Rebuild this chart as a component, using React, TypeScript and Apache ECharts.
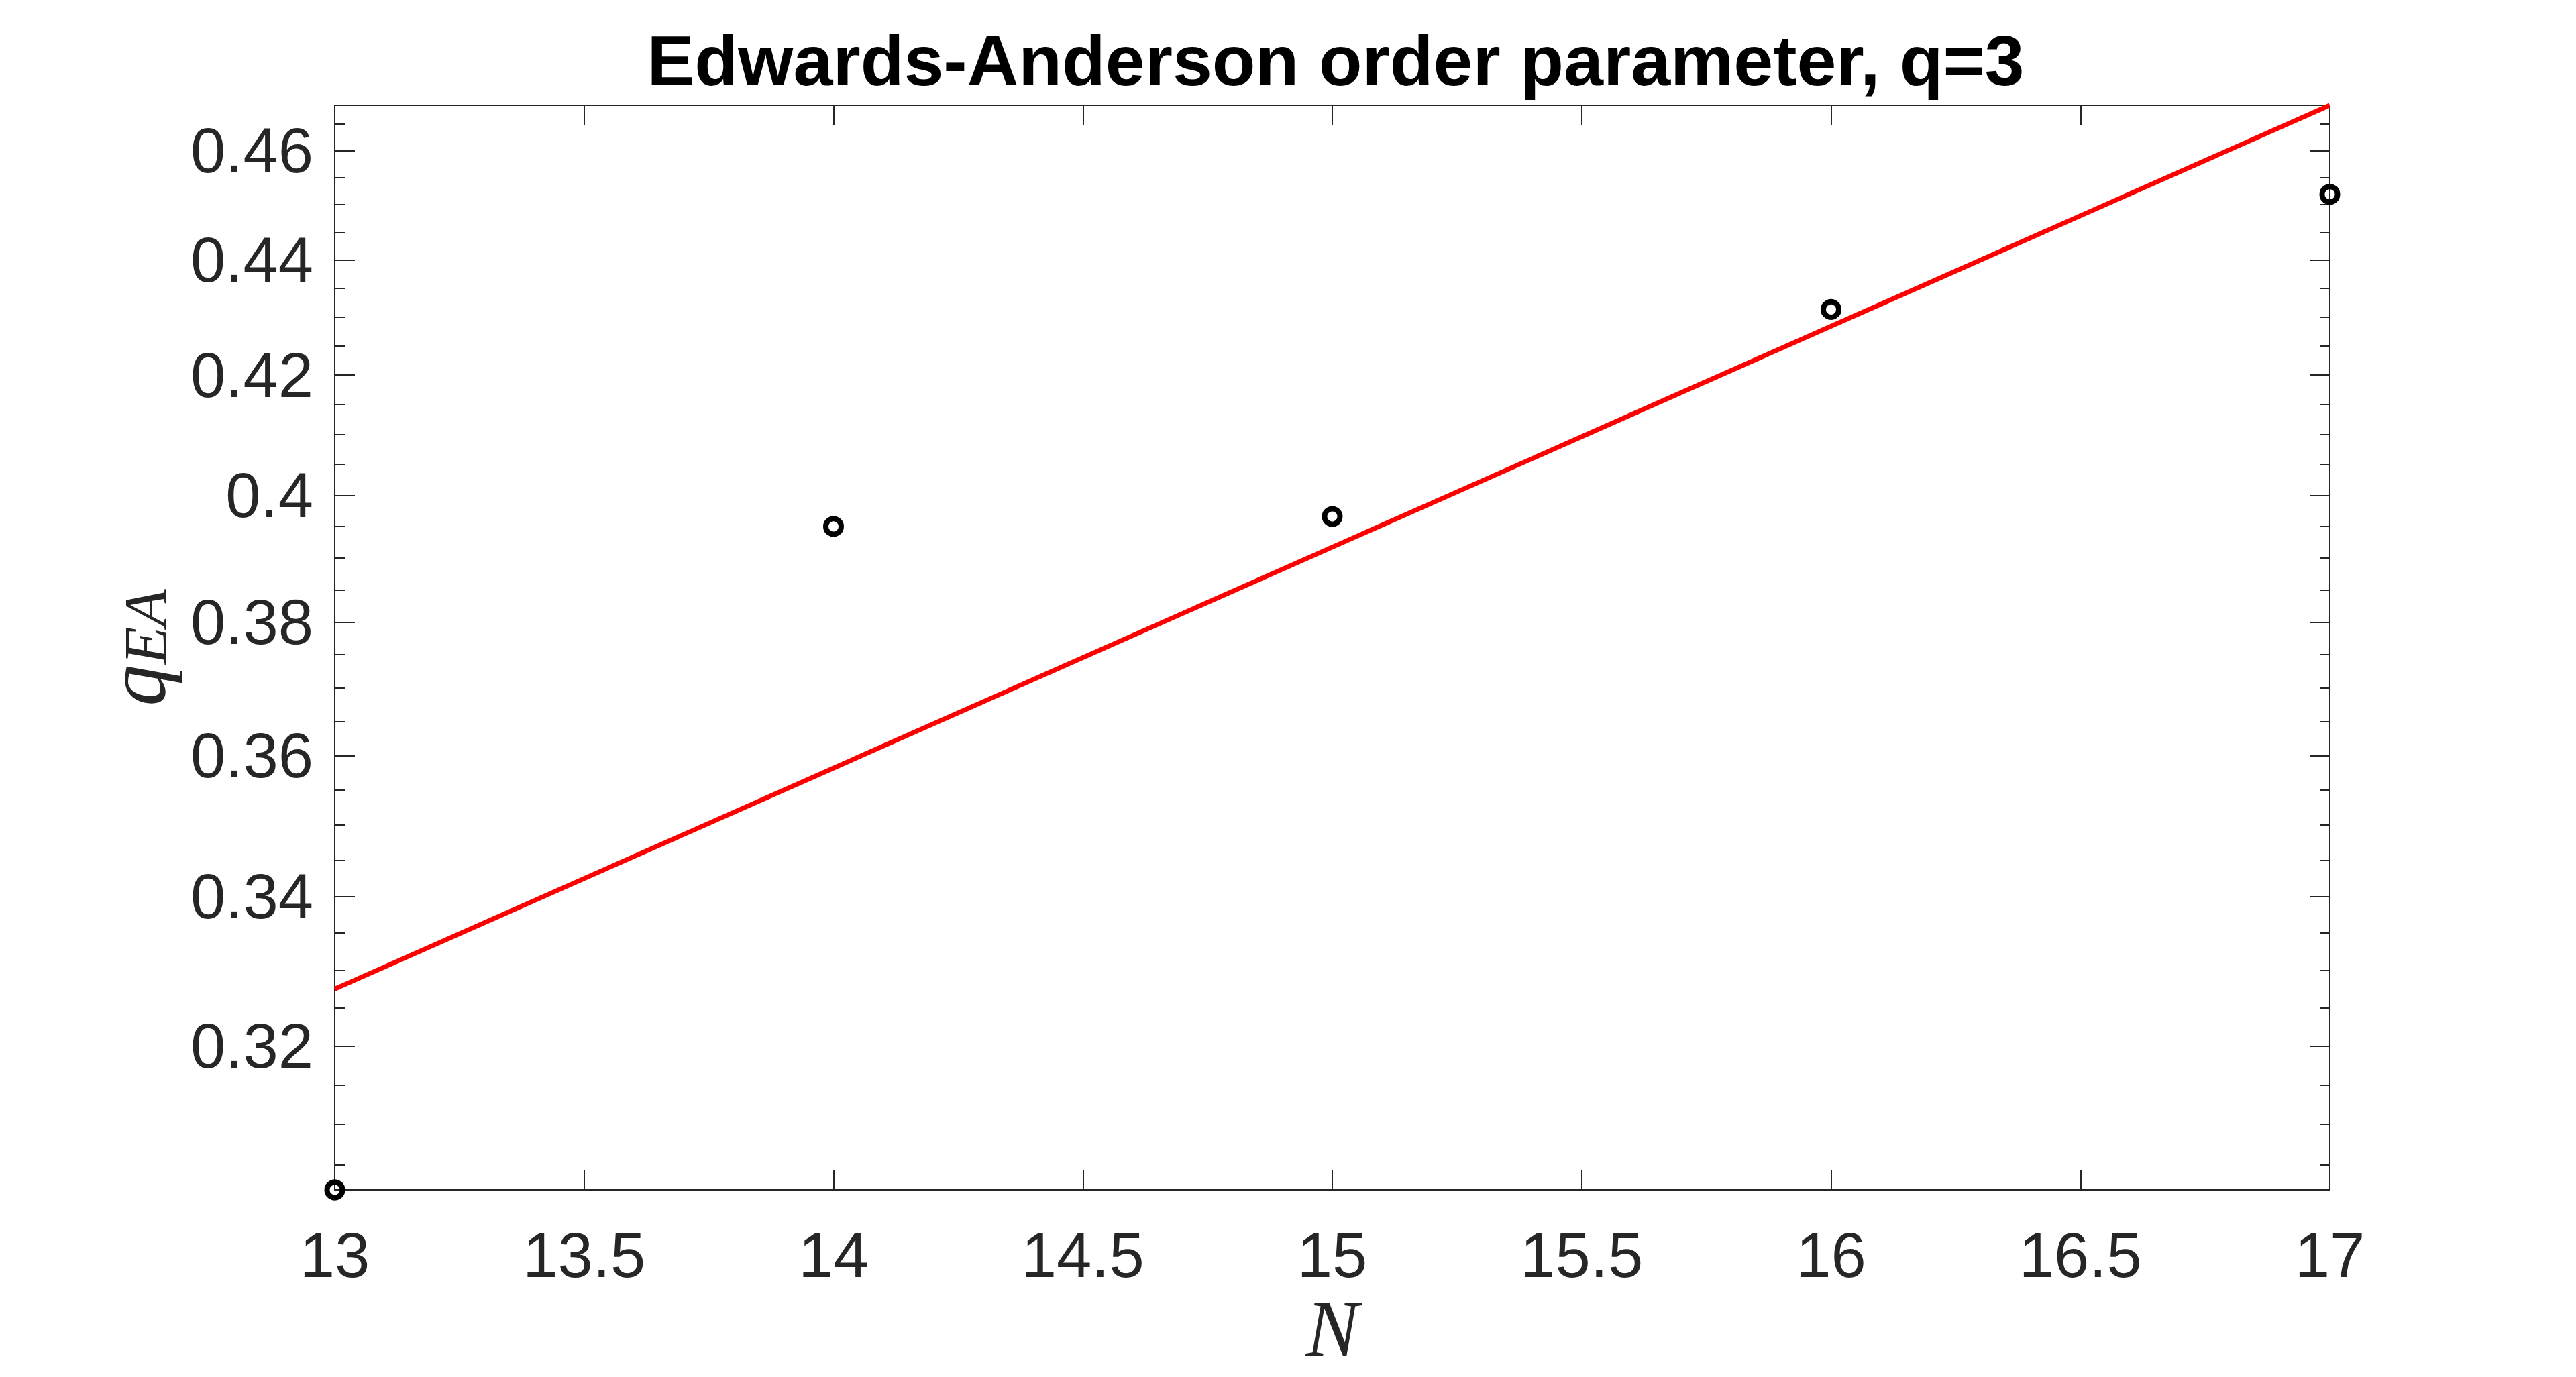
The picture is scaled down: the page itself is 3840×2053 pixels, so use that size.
import React, { useEffect, useRef } from "react";
import * as echarts from "echarts";

// Data (q_EA is plotted on a logarithmic y axis)
const nValues = [13, 14, 15, 16, 17];
const qEA = [0.3019, 0.395, 0.3966, 0.4313, 0.4519];
// Exponential fit line (straight on the log axis), end points
const fitN = [13, 17];
const fitQ = [0.3275, 0.4685];

// Tick values
const xMin = 13;
const xMax = 17;
const xInterval = 0.5;
const yMajorTicks = [0.32, 0.34, 0.36, 0.38, 0.4, 0.42, 0.44, 0.46];
const yMinorTicks = [
  0.305, 0.31, 0.315, 0.325, 0.33, 0.335, 0.345, 0.35, 0.355, 0.365, 0.37, 0.375,
  0.385, 0.39, 0.395, 0.405, 0.41, 0.415, 0.425, 0.43, 0.435, 0.445, 0.45, 0.455, 0.465,
];

const TITLE = "Edwards-Anderson order parameter, q=3";
const AXIS_COLOR = "#262626";
const SANS = "'Liberation Sans', Arial, Helvetica, sans-serif";
const SERIF = "'Liberation Serif', 'Times New Roman', serif";

const GRID_LEFT = 499;
const GRID_RIGHT = 367;
const WIDTH = 3840;
const HEIGHT = 2053;

export default function App() {
  const ref = useRef<HTMLDivElement>(null);

  useEffect(() => {
    document.body.style.margin = "0";
    document.body.style.overflow = "hidden";
    if (!ref.current) return;
    const chart = echarts.init(ref.current, null, { renderer: "svg" });

    const yMin = Math.log(Math.min(...qEA));
    const yMax = Math.log(Math.max(...fitQ));
    const majorLn = yMajorTicks.map((v) => Math.log(v));
    const minorLn = yMinorTicks.map((v) => Math.log(v));

    const baseY = {
      type: "value" as const,
      min: yMin,
      max: yMax,
      splitLine: { show: false },
    };
    const baseX = {
      type: "value" as const,
      min: xMin,
      max: xMax,
      interval: xInterval,
      splitLine: { show: false },
    };

    const plotCenterX = GRID_LEFT + (WIDTH - GRID_LEFT - GRID_RIGHT) / 2;

    chart.setOption({
      animation: false,
      backgroundColor: "#ffffff",
      title: {
        text: TITLE,
        left: plotCenterX,
        textAlign: "center",
        top: 32,
        textStyle: {
          fontFamily: SANS,
          fontWeight: "bold",
          fontSize: 106,
          color: "#000000",
        },
      },
      grid: { left: GRID_LEFT, right: GRID_RIGHT, top: 157, bottom: 279, containLabel: false },
      xAxis: [
        {
          ...baseX,
          position: "bottom",
          name: "N",
          nameLocation: "middle",
          nameGap: 144,
          nameTextStyle: {
            fontFamily: SERIF,
            fontStyle: "italic",
            fontSize: 118,
            color: AXIS_COLOR,
          },
          axisLine: { show: true, lineStyle: { color: AXIS_COLOR, width: 2 } },
          axisTick: { show: true, inside: true, length: 30, lineStyle: { color: AXIS_COLOR, width: 2 } },
          axisLabel: {
            show: true,
            margin: 50,
            fontFamily: SANS,
            fontSize: 94,
            color: AXIS_COLOR,
          },
        },
        {
          ...baseX,
          position: "top",
          axisLine: { show: true, lineStyle: { color: AXIS_COLOR, width: 2 } },
          axisTick: { show: true, inside: true, length: 30, lineStyle: { color: AXIS_COLOR, width: 2 } },
          axisLabel: { show: false },
        },
      ],
      yAxis: [
        {
          ...baseY,
          position: "left",
          name: "{q|q}{s|EA}",
          nameLocation: "middle",
          nameGap: 236,
          nameRotate: 90,
          nameTextStyle: {
            rich: {
              q: {
                fontFamily: SERIF,
                fontStyle: "italic",
                fontSize: 124,
                lineHeight: 120,
                color: AXIS_COLOR,
              },
              s: {
                fontFamily: SERIF,
                fontStyle: "italic",
                fontSize: 92,
                lineHeight: 60,
                verticalAlign: "bottom",
                color: AXIS_COLOR,
              },
            },
          },
          axisLine: { show: true, lineStyle: { color: AXIS_COLOR, width: 2 } },
          axisTick: {
            show: true,
            inside: true,
            length: 30,
            customValues: majorLn,
            lineStyle: { color: AXIS_COLOR, width: 2 },
          },
          axisLabel: {
            show: true,
            margin: 32,
            customValues: majorLn,
            fontFamily: SANS,
            fontSize: 94,
            color: AXIS_COLOR,
            formatter: (v: number) => String(Number(Math.exp(v).toFixed(2))),
          },
        },
        {
          ...baseY,
          position: "left",
          axisLine: { show: false },
          axisTick: {
            show: true,
            inside: true,
            length: 15,
            customValues: minorLn,
            lineStyle: { color: AXIS_COLOR, width: 2 },
          },
          axisLabel: { show: false },
        },
        {
          ...baseY,
          position: "right",
          axisLine: { show: true, lineStyle: { color: AXIS_COLOR, width: 2 } },
          axisTick: {
            show: true,
            inside: true,
            length: 30,
            customValues: majorLn,
            lineStyle: { color: AXIS_COLOR, width: 2 },
          },
          axisLabel: { show: false },
        },
        {
          ...baseY,
          position: "right",
          axisLine: { show: false },
          axisTick: {
            show: true,
            inside: true,
            length: 15,
            customValues: minorLn,
            lineStyle: { color: AXIS_COLOR, width: 2 },
          },
          axisLabel: { show: false },
        },
      ],
      series: [
        {
          type: "scatter",
          xAxisIndex: 0,
          yAxisIndex: 0,
          clip: false,
          symbol: "circle",
          symbolSize: 23,
          itemStyle: {
            color: "rgba(255,255,255,0)",
            borderColor: "#000000",
            borderWidth: 8,
            opacity: 1,
          },
          data: nValues.map((n, i) => [n, Math.log(qEA[i])]),
          z: 3,
        },
        {
          type: "line",
          xAxisIndex: 0,
          yAxisIndex: 0,
          clip: false,
          showSymbol: false,
          symbol: "none",
          lineStyle: { color: "#ff0000", width: 7 },
          data: fitN.map((n, i) => [n, Math.log(fitQ[i])]),
          z: 2,
        },
      ],
    });

    return () => chart.dispose();
  }, []);

  return <div ref={ref} style={{ width: WIDTH, height: HEIGHT }} />;
}
